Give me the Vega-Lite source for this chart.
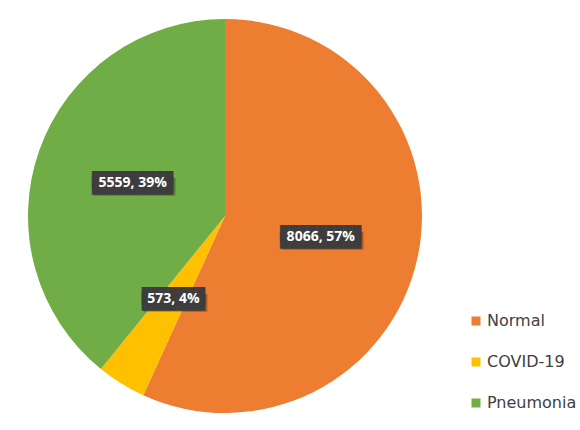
{
  "$schema": "https://vega.github.io/schema/vega-lite/v6.json",
  "width": 450,
  "height": 432,
  "padding": 0,
  "autosize": {"type": "pad"},
  "background": "white",
  "config": {"view": {"stroke": null}},
  "data": {
    "values": [
      {"category": "Normal", "rank": 1, "count": 8066, "label": "8066, 57%"},
      {"category": "COVID-19", "rank": 2, "count": 573, "label": "573, 4%"},
      {"category": "Pneumonia", "rank": 3, "count": 5559, "label": "5559, 39%"}
    ]
  },
  "encoding": {
    "theta": {"field": "count", "type": "quantitative", "stack": true},
    "order": {"field": "rank", "type": "quantitative", "sort": "ascending"}
  },
  "layer": [
    {
      "mark": {"type": "arc", "outerRadius": 197},
      "encoding": {
        "color": {
          "field": "category",
          "type": "nominal",
          "sort": ["Normal", "COVID-19", "Pneumonia"],
          "scale": {
            "domain": ["Normal", "COVID-19", "Pneumonia"],
            "range": ["#ED7D31", "#FFC000", "#70AD47"]
          },
          "legend": {
            "title": null,
            "orient": "none",
            "legendX": 468,
            "legendY": 313,
            "symbolType": "square",
            "symbolSize": 81,
            "symbolStrokeWidth": 0,
            "labelFont": "DejaVu Sans",
            "labelFontSize": 16,
            "labelColor": "#404040",
            "labelOffset": 3,
            "rowPadding": 25
          }
        }
      }
    },
    {
      "mark": {"type": "text", "radius": 98, "font": "DejaVu Sans Mono", "fontSize": 15, "color": "#000000", "opacity": 0.25, "dx": 2, "dy": 4},
      "encoding": {
        "text": {"condition": {"test": "datum.category == 'COVID-19'", "value": "███████"}, "value": "█████████"}
      }
    },
    {
      "mark": {"type": "text", "radius": 98, "font": "DejaVu Sans Mono", "fontSize": 15, "color": "#3d3d3d", "dy": -3},
      "encoding": {
        "text": {"condition": {"test": "datum.category == 'COVID-19'", "value": "███████"}, "value": "█████████"}
      }
    },
    {
      "mark": {"type": "text", "radius": 98, "font": "DejaVu Sans Mono", "fontSize": 15, "color": "#3d3d3d", "dy": 3},
      "encoding": {
        "text": {"condition": {"test": "datum.category == 'COVID-19'", "value": "███████"}, "value": "█████████"}
      }
    },
    {
      "mark": {"type": "text", "radius": 98, "font": "Open Sans", "fontSize": 14, "fontWeight": "bold", "color": "white"},
      "encoding": {
        "text": {"field": "label", "type": "nominal"}
      }
    }
  ]
}
